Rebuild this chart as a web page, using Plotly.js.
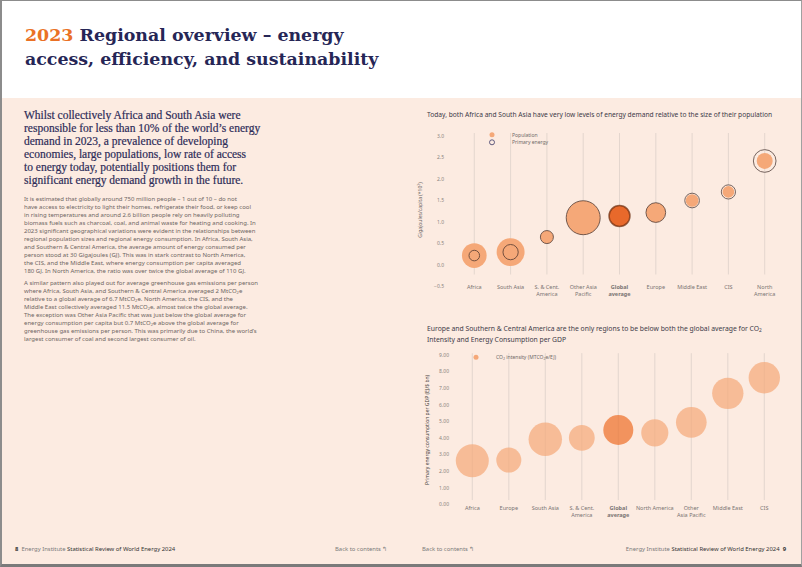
<!DOCTYPE html>
<html><head><meta charset="utf-8">
<script src="https://cdn.plot.ly/plotly-3.0.1.min.js"></script>
<style>
html,body{margin:0;padding:0;background:#fff;}
#page{position:relative;width:802px;height:567px;overflow:hidden;background:#fff;}
#peach{position:absolute;left:0;top:98px;width:802px;height:467px;background:#fcebe1;}
#frame{position:absolute;left:0;top:0;width:802px;height:567px;box-sizing:border-box;border-top:1px solid #8c8c8c;border-left:2px solid #8c8c8c;border-bottom:3px solid #7a7a7a;border-right:1px solid #a0a0a0;pointer-events:none;z-index:5}
#title{position:absolute;left:25px;top:23px;font-family:'DejaVu Serif',serif;font-weight:bold;font-size:17.4px;line-height:24px;color:#262656;white-space:nowrap}
#title .yr{color:#ea7125}
#lead{position:absolute;left:24px;top:109px;font-family:'Liberation Serif',serif;font-size:11.5px;line-height:12.9px;color:#2d2b58;white-space:nowrap;-webkit-text-stroke:0.2px #2d2b58}
.body{position:absolute;left:24px;font-family:'Noto Sans',sans-serif;font-size:6px;line-height:8px;color:#6e6663;white-space:nowrap}
.body sub{font-size:4px;line-height:0;vertical-align:-1px}
#p1{top:195px} #p2{top:279px}
.foot{position:absolute;top:545px;font-family:'Noto Sans',sans-serif;font-size:5.9px;line-height:8px;color:#7a7a7a;white-space:nowrap}
.dk{color:#333}
#chart{position:absolute;left:0;top:0;width:802px;height:567px}
</style></head>
<body>
<div id="page">
<div id="peach"></div>
<div id="title"><span class="yr">2023</span> Regional overview – energy<br>access, efficiency, and sustainability</div>
<div id="lead">Whilst collectively Africa and South Asia were<br>responsible for less than 10% of the world’s energy<br>demand in 2023, a prevalence of developing<br>economies, large populations, low rate of access<br>to energy today, potentially positions them for<br>significant energy demand growth in the future.</div>
<div class="body" id="p1">It is estimated that globally around 750 million people – 1 out of 10 – do not<br>have access to electricity to light their homes, refrigerate their food, or keep cool<br>in rising temperatures and around 2.6 billion people rely on heavily polluting<br>biomass fuels such as charcoal, coal, and animal waste for heating and cooking. In<br>2023 significant geographical variations were evident in the relationships between<br>regional population sizes and regional energy consumption. In Africa, South Asia,<br>and Southern &amp; Central America, the average amount of energy consumed per<br>person stood at 30 Gigajoules (GJ). This was in stark contrast to North America,<br>the CIS, and the Middle East, where energy consumption per capita averaged<br>180 GJ. In North America, the ratio was over twice the global average of 110 GJ.</div>
<div class="body" id="p2">A similar pattern also played out for average greenhouse gas emissions per person<br>where Africa, South Asia, and Southern &amp; Central America averaged 2 MtCO<sub>2</sub>e<br>relative to a global average of 6.7 MtCO<sub>2</sub>e. North America, the CIS, and the<br>Middle East collectively averaged 11.5 MtCO<sub>2</sub>e, almost twice the global average.<br>The exception was Other Asia Pacific that was just below the global average for<br>energy consumption per capita but 0.7 MtCO<sub>2</sub>e above the global average for<br>greenhouse gas emissions per person. This was primarily due to China, the world’s<br>largest consumer of coal and second largest consumer of oil.</div>
<div class="foot" style="left:15px"><b class="dk">8</b>&nbsp; Energy Institute <span class="dk">Statistical Review of World Energy 2024</span></div>
<div class="foot" style="left:335px">Back to contents ↰</div>
<div class="foot" style="left:422px">Back to contents ↰</div>
<div class="foot" style="right:16px">Energy Institute <span class="dk">Statistical Review of World Energy 2024</span>&nbsp; <b class="dk">9</b></div>
<div id="chart"></div>
<div id="frame"></div>
</div>
<script>
// ---- Chart 1: energy per capita vs population ----
const energyRegions = ['Africa','South Asia','S. & Cent. America','Other Asia Pacific','Global average','Europe','Middle East','CIS','North America'];
const energyLabels = ['Africa','South Asia','S. & Cent.<br>America','Other Asia<br>Pacific','<b>Global<br>average</b>','Europe','Middle East','CIS','North<br>America'];
const gjPerCapita = [0.22, 0.30, 0.65, 1.10, 1.14, 1.22, 1.50, 1.70, 2.42];
const populationM = [1460, 1875, 404, 2763, 1054, 928, 386, 327, 612];
const primaryEnergyEJ = [25, 52, 38, 258, 98, 87, 48, 45, 115];

// ---- Chart 2: energy per GDP vs CO2 intensity ----
const gdpRegions = ['Africa','Europe','South Asia','S. & Cent. America','Global average','North America','Other Asia Pacific','Middle East','CIS'];
const gdpLabels = ['Africa','Europe','South Asia','S. & Cent.<br>America','<b>Global<br>average</b>','North America','Other<br>Asia Pacific','Middle East','CIS'];
const energyPerGdp = [2.63, 2.67, 3.92, 4.01, 4.48, 4.31, 4.94, 6.69, 7.63];
const co2Intensity = [80, 46, 82, 49, 66, 54, 69, 72, 72];

const W = 802, H = 567;
const fx = p => p / W, fy = p => 1 - p / H;
const FONT = 'Noto Sans, Open Sans, sans-serif';
const light = '#f5a878', darkTop = '#e8692b', darkBot = '#ee6d26', ring = '#3d2b27', grid = '#ddd1c9';
const isAvg = r => r === 'Global average';

const traces = [
  {x: energyLabels, y: gjPerCapita, type: 'scatter', mode: 'markers', xaxis: 'x', yaxis: 'y', showlegend: false, hoverinfo: 'skip',
   marker: {size: populationM, sizemode: 'area', sizeref: 4.79, color: energyRegions.map(r => isAvg(r) ? darkTop : light), line: {width: 0}, opacity: 1}},
  {x: energyLabels, y: gjPerCapita, type: 'scatter', mode: 'markers', xaxis: 'x', yaxis: 'y', showlegend: false, hoverinfo: 'skip',
   marker: {size: primaryEnergyEJ, sizemode: 'area', sizeref: 0.447, color: 'rgba(0,0,0,0)',
            line: {width: energyRegions.map(r => isAvg(r) ? 1.5 : 1), color: energyRegions.map(r => isAvg(r) ? '#6b2c0e' : ring)}}},
  {x: gdpLabels, y: energyPerGdp, type: 'scatter', mode: 'markers', xaxis: 'x2', yaxis: 'y2', showlegend: false, hoverinfo: 'skip',
   marker: {size: co2Intensity, sizemode: 'area', sizeref: 0.1467, color: gdpRegions.map(r => isAvg(r) ? darkBot : light), line: {width: 0}}},
  // legend entries
  {x: [null], y: [null], type: 'scatter', mode: 'markers', xaxis: 'x', yaxis: 'y', name: 'Population', legend: 'legend', hoverinfo: 'skip',
   marker: {size: 5, color: light, line: {width: 0}}},
  {x: [null], y: [null], type: 'scatter', mode: 'markers', xaxis: 'x', yaxis: 'y', name: 'Primary energy', legend: 'legend2', hoverinfo: 'skip',
   marker: {size: 5, color: 'rgba(0,0,0,0)', line: {width: 0.8, color: '#3a3766'}}},
  {x: [null], y: [null], type: 'scatter', mode: 'markers', xaxis: 'x2', yaxis: 'y2', name: 'CO<sub>2</sub> intensity (MTCO<sub>2</sub>e/EJ)', legend: 'legend3', hoverinfo: 'skip',
   marker: {size: 5, color: light, line: {width: 0}}}
];

const vlines = (labels, xr, yr, y0, y1) => labels.map(c => ({type: 'line', xref: xr, yref: yr, x0: c, x1: c, y0: y0, y1: y1, line: {color: grid, width: 0.8}, layer: 'below'}));

const tickFont = {family: FONT, size: 5.5, color: '#7a7472'};
const yTickFont = {family: FONT, size: 5, color: '#8a8480'};
const legBase = {bgcolor: 'rgba(0,0,0,0)', borderwidth: 0, font: {family: FONT, size: 5, color: '#6f6a68'}, xanchor: 'left', yanchor: 'middle', itemwidth: 30};

const layout = {
  width: W, height: H, margin: {l: 0, r: 0, t: 0, b: 0},
  paper_bgcolor: 'rgba(0,0,0,0)', plot_bgcolor: 'rgba(0,0,0,0)',
  font: {family: FONT},
  xaxis: {domain: [fx(445), fx(790)], range: [-0.807, 8.697], type: 'category', anchor: 'free', position: fy(282),
          showgrid: false, zeroline: false, showline: false, ticks: '', tickangle: 0, tickfont: tickFont, fixedrange: true},
  yaxis: {domain: [fy(290), fy(130)], range: [-0.581, 3.14], anchor: 'free', position: fx(444), dtick: 0.5, tick0: 0, tickformat: '.1f',
          showgrid: false, zeroline: false, showline: false, ticks: '', tickfont: yTickFont, fixedrange: true,
          title: {text: 'Gigajoules/capita (*10<sup>2</sup>)', font: {family: FONT, size: 5, color: '#6a6462'}, standoff: 10}},
  xaxis2: {domain: [fx(445), fx(790)], range: [-0.748, 8.704], type: 'category', anchor: 'free', position: fy(503),
          showgrid: false, zeroline: false, showline: false, ticks: '', tickangle: 0, tickfont: tickFont, fixedrange: true},
  yaxis2: {domain: [fy(510), fy(350)], range: [-0.34, 9.30], anchor: 'free', position: fx(449), dtick: 1, tick0: 0, tickformat: '.2f',
          showgrid: false, zeroline: false, showline: false, ticks: '', tickfont: yTickFont, fixedrange: true,
          title: {text: 'Primary energy consumption per GDP (EJ/$ bn)', font: {family: FONT, size: 5, color: '#4a4442'}, standoff: 8}},
  shapes: vlines(energyLabels, 'x', 'y', -0.22, 3.07).concat(vlines(gdpLabels, 'x2', 'y2', 0.26, 9.11)),
  legend: Object.assign({}, legBase, {x: fx(472), y: fy(134.7)}),
  legend2: Object.assign({}, legBase, {x: fx(472), y: fy(142.3)}),
  legend3: Object.assign({}, legBase, {x: fx(456), y: fy(357.3)}),
  annotations: [
    {xref: 'paper', yref: 'paper', x: fx(425), y: fy(114.3), xanchor: 'left', yanchor: 'middle', showarrow: false,
     text: 'Today, both Africa and South Asia have very low levels of energy demand relative to the size of their population',
     font: {family: FONT, size: 6.65, color: '#3c3a48'}},
    {xref: 'paper', yref: 'paper', x: fx(425), y: fy(328.3), xanchor: 'left', yanchor: 'middle', showarrow: false,
     text: 'Europe and Southern & Central America are the only regions to be below both the global average for CO<sub>2</sub>',
     font: {family: FONT, size: 6.8, color: '#3c3a48'}},
    {xref: 'paper', yref: 'paper', x: fx(425), y: fy(339), xanchor: 'left', yanchor: 'middle', showarrow: false,
     text: 'Intensity and Energy Consumption per GDP',
     font: {family: FONT, size: 6.8, color: '#3c3a48'}}
  ],
  hovermode: false
};

Plotly.newPlot('chart', traces, layout, {displayModeBar: false, staticPlot: true});
</script>
</body></html>
